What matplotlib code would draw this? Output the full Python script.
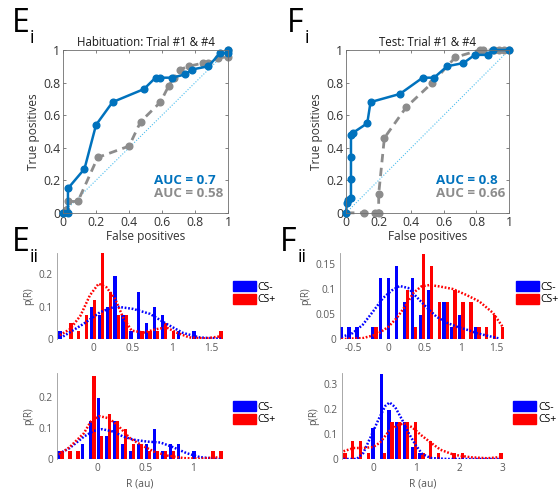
import numpy as np
import matplotlib
matplotlib.use('Agg')
import matplotlib.pyplot as plt
from matplotlib.patches import Patch

plt.rcParams['font.family'] = ['Open Sans', 'DejaVu Sans']

# ROC curves (false positive rate, true positive rate)
hab_fp_day1 = [0, 0.03, 0.03, 0.13, 0.20, 0.30, 0.49, 0.56, 0.59, 0.66, 0.74, 0.78, 0.88, 0.95, 1.0, 1.0]
hab_tp_day1 = [0, 0.0, 0.15, 0.27, 0.54, 0.68, 0.76, 0.83, 0.83, 0.83, 0.85, 0.88, 0.90, 0.98, 0.98, 1.0]
hab_fp_day4 = [0, 0.02, 0.03, 0.09, 0.21, 0.40, 0.47, 0.59, 0.64, 0.67, 0.71, 0.76, 0.85, 0.88, 0.94, 1.0, 1.0]
hab_tp_day4 = [0, 0.02, 0.07, 0.07, 0.34, 0.41, 0.56, 0.68, 0.78, 0.83, 0.88, 0.90, 0.92, 0.92, 0.95, 0.96, 1.0]
hab_auc = [0.7, 0.58]

test_fp_day1 = [0, 0.005, 0.01, 0.03, 0.03, 0.03, 0.03, 0.04, 0.13, 0.15, 0.33, 0.47, 0.54, 0.62, 0.72, 0.79, 0.87, 0.90, 1.0]
test_tp_day1 = [0, 0.06, 0.08, 0.09, 0.21, 0.34, 0.48, 0.49, 0.55, 0.68, 0.73, 0.83, 0.83, 0.90, 0.92, 0.97, 0.97, 1.0, 1.0]
test_fp_day4 = [0, 0.11, 0.18, 0.20, 0.20, 0.235, 0.37, 0.53, 0.67, 0.82, 0.84, 0.91, 0.94, 0.97, 1.0]
test_tp_day4 = [0, 0.0, 0.0, 0.0, 0.115, 0.46, 0.65, 0.80, 0.955, 1.0, 1.0, 1.0, 1.0, 1.0, 1.0]
test_auc = [0.8, 0.66]

n_trials = 41

# Habituation, trial #1 response histograms
e1_centers = [-0.4, -0.3, -0.2, -0.1, 0.0, 0.1, 0.2, 0.3, 0.4, 0.5, 0.6, 0.7, 0.8, 0.9, 1.0, 1.1, 1.2, 1.3, 1.4, 1.5, 1.6]
e1_csm = [1, 0, 0, 0, 4, 3, 4, 8, 3, 1, 6, 2, 4, 3, 0, 1, 0, 1, 0, 0, 0]
e1_csp = [0, 2, 1, 3, 5, 11, 6, 3, 3, 0, 1, 1, 1, 2, 1, 0, 0, 0, 0, 0, 1]
e1_fit_x = [-0.42, -0.38, -0.12, 0.09, 0.28, 0.51, 0.72, 0.93, 1.14, 1.35, 1.56, 1.62]
e1_fit_csm = [0.004, 0.008, 0.047, 0.083, 0.101, 0.093, 0.078, 0.047, 0.019, 0.005, 0.002, 0.001]
e1_fitp_x = [-0.42, -0.29, -0.16, -0.04, 0.07, 0.17, 0.28, 0.38, 0.49, 0.64, 0.81, 0.93, 1.06, 1.22, 1.43, 1.6]
e1_fit_csp = [0.012, 0.031, 0.072, 0.135, 0.171, 0.16, 0.124, 0.067, 0.026, 0.02, 0.031, 0.036, 0.02, 0.005, 0.002, 0.008]

# Habituation, trial #4
e4_centers = [-0.385, -0.302, -0.219, -0.136, -0.053, 0.03, 0.113, 0.196, 0.279, 0.362, 0.445,
              0.528, 0.611, 0.694, 0.777, 0.86, 0.943, 1.026, 1.109, 1.192, 1.275]
e4_csm = [1, 0, 0, 2, 5, 8, 3, 5, 2, 1, 2, 2, 4, 1, 2, 2, 0, 1, 0, 0, 0]
e4_csp = [1, 1, 1, 0, 11, 3, 6, 5, 4, 2, 2, 1, 1, 1, 1, 0, 0, 0, 0, 1, 1]
e4_fit_x = [-0.40, -0.29, -0.14, -0.04, 0.05, 0.17, 0.27, 0.38, 0.52, 0.66, 0.79, 0.93, 1.07, 1.24, 1.28]
e4_fit_csm = [0.017, 0.035, 0.072, 0.09, 0.096, 0.088, 0.072, 0.062, 0.056, 0.053, 0.038, 0.019, 0.006, 0.001, 0.0]
e4_fitp_x = [-0.40, -0.29, -0.14, -0.07, 0.02, 0.12, 0.22, 0.34, 0.47, 0.59, 0.73, 0.90, 1.07, 1.28]
e4_fit_csp = [0.014, 0.038, 0.083, 0.12, 0.138, 0.131, 0.106, 0.067, 0.043, 0.024, 0.011, 0.003, 0.001, 0.006]

# Test, trial #1
f1_centers = [-0.64, -0.53, -0.42, -0.31, -0.20, -0.09, 0.02, 0.13, 0.24, 0.35, 0.46,
              0.57, 0.68, 0.79, 0.90, 1.01, 1.12, 1.23, 1.34, 1.45, 1.56]
f1_csm = [1, 1, 1, 0, 1, 5, 5, 6, 3, 5, 2, 4, 0, 3, 1, 2, 0, 1, 0, 0, 0]
f1_csp = [0, 0, 0, 0, 1, 0, 0, 0, 4, 1, 7, 6, 3, 3, 4, 3, 3, 1, 1, 2, 1]
f1_fit_x = [-0.66, -0.5, -0.36, -0.22, -0.08, 0.04, 0.15, 0.27, 0.38, 0.52, 0.66, 0.8, 0.94, 1.08, 1.22, 1.36, 1.54]
f1_fit_csm = [0.004, 0.012, 0.029, 0.055, 0.082, 0.097, 0.106, 0.102, 0.085, 0.064, 0.045, 0.033, 0.025, 0.019, 0.012, 0.007, 0.001]
f1_fitp_x = [-0.66, -0.36, -0.17, -0.01, 0.11, 0.23, 0.34, 0.45, 0.57, 0.71, 0.89, 1.08, 1.26, 1.45, 1.58]
f1_fit_csp = [0.0, 0.002, 0.009, 0.024, 0.042, 0.066, 0.092, 0.105, 0.108, 0.105, 0.1, 0.088, 0.075, 0.052, 0.025]

# Test, trial #4
f4_centers = [-0.69, -0.51, -0.33, -0.15, 0.03, 0.22, 0.40, 0.58, 0.76, 0.94, 1.12,
              1.30, 1.48, 1.66, 1.84, 2.03, 2.21, 2.39, 2.57, 2.75, 2.93]
f4_csm = [0, 0, 0, 0, 5, 14, 8, 6, 6, 2, 1, 0, 0, 0, 0, 0, 0, 0, 0, 0, 0]
f4_csp = [1, 3, 3, 1, 0, 1, 6, 6, 6, 6, 1, 3, 1, 0, 1, 1, 0, 0, 0, 0, 1]
f4_fit_x = [-0.69, -0.38, -0.23, -0.07, 0.12, 0.28, 0.38, 0.51, 0.67, 0.82, 0.98, 1.13, 1.33, 1.72, 2.5, 2.95]
f4_fit_csm = [0.0, 0.0, 0.024, 0.084, 0.157, 0.212, 0.226, 0.207, 0.157, 0.104, 0.057, 0.021, 0.004, 0.0, 0.0, 0.0]
f4_fitp_x = [-0.69, -0.45, -0.22, 0.0, 0.16, 0.36, 0.55, 0.71, 0.90, 1.10, 1.33, 1.56, 1.87, 2.26, 2.65, 2.96]
f4_fit_csp = [0.031, 0.044, 0.044, 0.048, 0.066, 0.11, 0.133, 0.143, 0.127, 0.097, 0.066, 0.037, 0.017, 0.007, 0.003, 0.008]

BLUE = '#0072BD'
GRAY = '#8c8c8c'
AXC = '#6e6e6e'
TXT = '#333333'

fig = plt.figure(figsize=(5.6, 4.95), dpi=100)


def roc_panel(rect, title, fp1, tp1, fp4, tp4, auc):
    ax = fig.add_axes(rect)
    ax.plot([0, 1], [0, 1], linestyle=(0, (1, 1.5)), color='#4DBEEE', lw=0.8)
    ax.plot(fp4, tp4, '--o', color=GRAY, lw=2, ms=4.8, dashes=(3, 2), clip_on=False)
    ax.plot(fp1, tp1, '-o', color=BLUE, lw=1.8, ms=4.8, clip_on=False)
    ax.set_xlim(0, 1)
    ax.set_ylim(0, 1)
    ticks = [0, 0.2, 0.4, 0.6, 0.8, 1]
    labels = ['0', '0.2', '0.4', '0.6', '0.8', '1']
    ax.set_xticks(ticks, labels)
    ax.set_yticks(ticks, labels)
    ax.tick_params(direction='in', length=2.5, width=0.6, colors=AXC,
                   labelcolor=TXT, labelsize=8.8, pad=2, top=True, right=True)
    for s in ax.spines.values():
        s.set_color(AXC)
        s.set_linewidth(0.6)
    ax.set_title(title, fontsize=8.3, color='#1a1a1a', pad=3)
    ax.set_xlabel('False positives', fontsize=8.6, color=TXT, labelpad=1)
    ax.set_ylabel('True positives', fontsize=8.6, color=TXT, labelpad=2)
    ax.text(0.55, 0.18, f'AUC = {auc[0]}', color=BLUE, fontsize=9.6, fontweight='bold')
    ax.text(0.55, 0.10, f'AUC = {auc[1]}', color=GRAY, fontsize=9.6, fontweight='bold')
    return ax


def hist_panel(rect, centers, csm, csp, fx_m, fy_m, fx_p, fy_p, xlim, ylim,
               xticks, xlabels, yticks, ylabels, xlabel=None):
    ax = fig.add_axes(rect)
    step = centers[1] - centers[0]
    x = np.array(centers)
    ax.bar(x - 0.2 * step, np.array(csm) / n_trials, width=0.42 * step, color='#0000ff', label='CS-')
    ax.bar(x + 0.2 * step, np.array(csp) / n_trials, width=0.42 * step, color='#ff0000', label='CS+')
    ax.plot(fx_m, fy_m, linestyle=(0, (0.7, 0.7)), color='#0000ff', lw=1.8)
    ax.plot(fx_p, fy_p, linestyle=(0, (0.7, 0.7)), color='#ff0000', lw=1.8)
    ax.set_xlim(*xlim)
    ax.set_ylim(*ylim)
    ax.set_xticks(xticks, xlabels)
    ax.set_yticks(yticks, ylabels)
    ax.tick_params(length=0, labelsize=7.3, colors='#5a5a5a', pad=3)
    for side in ['top', 'right', 'bottom']:
        ax.spines[side].set_visible(False)
    ax.spines['left'].set_color('#9a9a9a')
    ax.spines['left'].set_linewidth(0.6)
    ax.set_ylabel('p(R)', fontsize=7, color='#555555', labelpad=3)
    if xlabel:
        ax.set_xlabel(xlabel, fontsize=7.5, color='#555555', labelpad=3)
    handles = [Patch(color='#0000ff', label='CS-'), Patch(color='#ff0000', label='CS+')]
    ax.legend(handles=handles, loc='upper left', bbox_to_anchor=(1.06, 0.67), frameon=False,
              fontsize=7.5, handlelength=2.2, handleheight=1.1, handletextpad=0.2,
              labelspacing=0.1, borderpad=0, borderaxespad=0)
    return ax


roc_panel([0.1125, 0.570, 0.295, 0.329], 'Habituation: Trial #1 & #4',
          hab_fp_day1, hab_tp_day1, hab_fp_day4, hab_tp_day4, hab_auc)
roc_panel([0.618, 0.570, 0.291, 0.329], 'Test: Trial #1 & #4',
          test_fp_day1, test_tp_day1, test_fp_day4, test_tp_day4, test_auc)

hist_panel([0.102, 0.315, 0.296, 0.174], e1_centers, e1_csm, e1_csp,
           e1_fit_x, e1_fit_csm, e1_fitp_x, e1_fit_csp, (-0.455, 1.645), (0, 0.266),
           [0, 0.5, 1, 1.5], ['0', '0.5', '1', '1.5'], [0, 0.1, 0.2], ['0', '0.1', '0.2'])
hist_panel([0.607, 0.315, 0.296, 0.174], f1_centers, f1_csm, f1_csp,
           f1_fit_x, f1_fit_csm, f1_fitp_x, f1_fit_csp, (-0.68, 1.625), (0, 0.172),
           [-0.5, 0, 0.5, 1, 1.5], ['-0.5', '0', '0.5', '1', '1.5'],
           [0, 0.05, 0.1, 0.15], ['0', '0.05', '0.1', '0.15'])
hist_panel([0.102, 0.0727, 0.296, 0.174], e4_centers, e4_csm, e4_csp,
           e4_fit_x, e4_fit_csm, e4_fitp_x, e4_fit_csp, (-0.42, 1.31), (0, 0.277),
           [0, 0.5, 1], ['0', '0.5', '1'], [0, 0.1, 0.2], ['0', '0.1', '0.2'], xlabel='R (au)')
hist_panel([0.611, 0.0727, 0.288, 0.174], f4_centers, f4_csm, f4_csp,
           f4_fit_x, f4_fit_csm, f4_fitp_x, f4_fit_csp, (-0.72, 3.02), (0, 0.344),
           [0, 1, 2, 3], ['0', '1', '2', '3'], [0, 0.1, 0.2, 0.3], ['0', '0.1', '0.2', '0.3'],
           xlabel='R (au)')

# panel letters
for x, y, letter, sub in [(12, 32, 'E', 'i'), (287, 32, 'F', 'i'),
                          (12, 251, 'E', 'ii'), (280, 251, 'F', 'ii')]:
    fig.text(x / 560, 1 - y / 495, letter, fontsize=23, color='black', va='baseline')
    fig.text((x + 18) / 560, 1 - (y + 11) / 495, sub, fontsize=13, color='black', va='baseline')

fig.savefig('out.png', dpi=100)
